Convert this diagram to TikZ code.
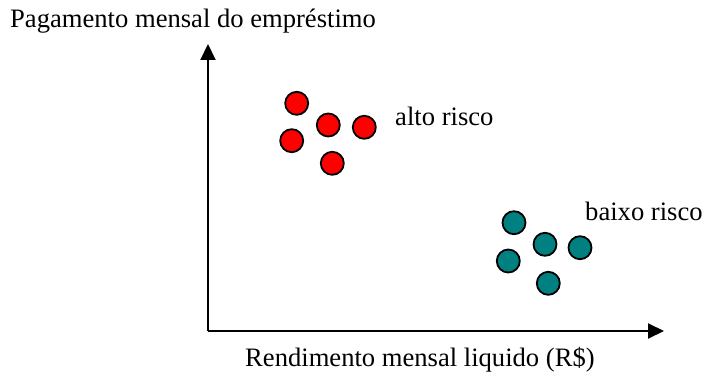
\documentclass[tikz,border=0pt]{standalone}
\usepackage{fontspec}
\setmainfont{Liberation Serif}
\usetikzlibrary{arrows.meta}
\definecolor{tealc}{HTML}{008080}
\begin{document}
\begin{tikzpicture}[x=1pt,y=-1pt,
  lbl/.style={anchor=base west,inner sep=0pt,font=\fontsize{26.6}{30}\selectfont},
  redpt/.style={circle,draw=black,fill=red,line width=1.8pt,minimum size=23pt,inner sep=0pt},
  tealpt/.style={circle,draw=black,fill=tealc,line width=1.8pt,minimum size=23pt,inner sep=0pt},
  axis/.style={line width=2pt,-{Triangle[width=15pt,length=16pt]}}]
\useasboundingbox (0,0) rectangle (704,374);
\coordinate (o) at (208,331);
\coordinate (ytip) at (208,44);
\coordinate (xtip) at (664,331);
\draw[axis] (o) -- (ytip);
\draw[axis] (o) -- (xtip);
\node[lbl] (ylab) at (10,27.5) {Pagamento mensal do empréstimo};
\node[lbl] (xlab) at (245,366.5) {Rendimento mensal liquido (R\$)};
\node[lbl] (alto) at (395,126) {alto risco};
\node[lbl] (baixo) at (585,221) {baixo risco};
\node[redpt] (r1) at (296.7,103.3) {};
\node[redpt] (r2) at (328.3,125) {};
\node[redpt] (r3) at (364.3,127.3) {};
\node[redpt] (r4) at (291.7,140.7) {};
\node[redpt] (r5) at (332.3,163.3) {};
\node[tealpt] (t1) at (514,222.7) {};
\node[tealpt] (t2) at (545,244.3) {};
\node[tealpt] (t3) at (580,247.7) {};
\node[tealpt] (t4) at (508.3,261) {};
\node[tealpt] (t5) at (548.3,283.3) {};
\end{tikzpicture}
\end{document}
